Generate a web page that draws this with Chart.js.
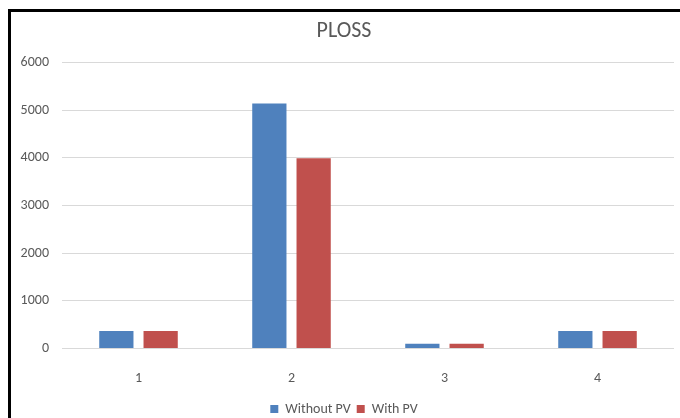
<!DOCTYPE html>
<html>
<head>
<meta charset="utf-8">
<script src="https://cdn.jsdelivr.net/npm/chart.js@4"></script>
<style>
  html, body { margin: 0; padding: 0; background: #fff; overflow: hidden; width: 680px; height: 418px; }
  #wrap { position: absolute; left: 0; top: 0; width: 696px; height: 426px; }
  .frame-left { position: absolute; left: 8px; top: 9px; width: 3px; height: 420px; background: #000; }
  .frame-top { position: absolute; left: 8px; top: 9px; width: 680px; height: 3px; background: #000; }
</style>
</head>
<body>
<div id="wrap"><canvas id="c" width="696" height="426"></canvas></div>
<div class="frame-left"></div>
<div class="frame-top"></div>
<script>
// Power loss per case, with and without PV
const categories = ['1', '2', '3', '4'];
const withoutPV = [365, 5140, 100, 365];
const withPV = [365, 3990, 100, 365];
const yTicks = [0, 1000, 2000, 3000, 4000, 5000, 6000];

const textColor = '#595959';
const gridColor = '#d9d9d9';

Chart.defaults.font.family = 'Carlito, Lato, sans-serif';
Chart.defaults.color = textColor;

new Chart(document.getElementById('c'), {
  type: 'bar',
  data: {
    labels: categories,
    datasets: [
      { label: 'Without PV', data: withoutPV, backgroundColor: '#4F81BD' },
      { label: 'With PV', data: withPV, backgroundColor: '#C0504D' }
    ]
  },
  options: {
    responsive: false,
    animation: false,
    devicePixelRatio: 1,
    layout: { padding: { left: 14, right: 22, top: 0, bottom: 0 } },
    datasets: { bar: { categoryPercentage: 0.579, barPercentage: 0.773 } },
    plugins: {
      title: {
        display: true,
        text: 'PLOSS',
        color: textColor,
        font: { size: 22, weight: 'normal' },
        padding: { top: 18, bottom: 18.1 }
      },
      legend: {
        position: 'bottom',
        labels: { boxWidth: 8, boxHeight: 8, font: { size: 14 }, color: textColor, padding: 6 }
      },
      tooltip: { enabled: false }
    },
    scales: {
      x: {
        grid: { display: false },
        border: { display: false },
        ticks: { padding: 14, font: { size: 14 } },
        afterFit: (s) => { s.height = 47.6; }
      },
      y: {
        min: yTicks[0],
        max: yTicks[yTicks.length - 1],
        afterBuildTicks: (s) => { s.ticks = yTicks.map(v => ({ value: v })); },
        grid: { color: gridColor, drawTicks: false },
        border: { display: false },
        ticks: { padding: 13, font: { size: 14 }, callback: (v) => String(v) },
        afterFit: (s) => { s.width = 48; }
      }
    }
  }
});
</script>
</body>
</html>
